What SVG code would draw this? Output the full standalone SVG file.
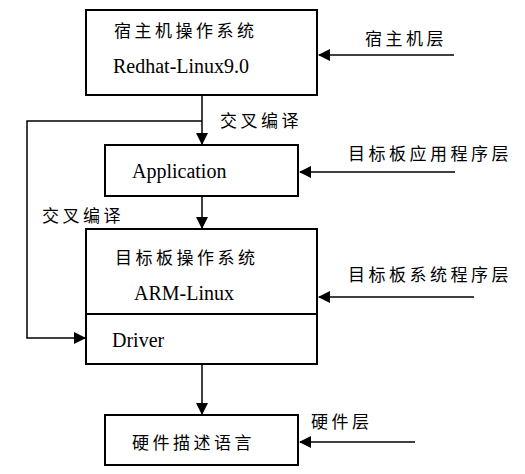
<svg xmlns="http://www.w3.org/2000/svg" width="525" height="474" viewBox="0 0 525 474">
<style>
.box{fill:#fff;stroke:#000;stroke-width:2}
.ln{fill:none;stroke:#000;stroke-width:1.5}
.en{font-family:"Liberation Serif",serif;font-size:20px;fill:#000}
.zh{font-family:"Noto Sans CJK SC",sans-serif;font-size:17px;letter-spacing:3.5px;fill:#000}
</style>
<defs>
<marker id="ah" markerWidth="12" markerHeight="12" refX="11" refY="6" orient="auto" markerUnits="userSpaceOnUse">
<path d="M0,0 L12,6 L0,12 Z" fill="#000"/>
</marker>
</defs>
<rect width="525" height="474" fill="#fff"/>
<g id="connectors">
<line class="ln" x1="202" y1="95" x2="202" y2="144" marker-end="url(#ah)"/>
<polyline class="ln" points="202,121 27,121 27,338 85,338" marker-end="url(#ah)"/>
<line class="ln" x1="202" y1="196" x2="202" y2="228" marker-end="url(#ah)"/>
<line class="ln" x1="202" y1="364" x2="202" y2="414" marker-end="url(#ah)"/>
<line class="ln" x1="454" y1="55" x2="319" y2="55" marker-end="url(#ah)"/>
<line class="ln" x1="455" y1="172" x2="300" y2="172" marker-end="url(#ah)"/>
<line class="ln" x1="474" y1="297" x2="319" y2="297" marker-end="url(#ah)"/>
<line class="ln" x1="415" y1="442" x2="300" y2="442" marker-end="url(#ah)"/>
<text class="zh" x="220" y="127">交叉编译</text>
<text class="zh" x="42" y="222">交叉编译</text>
</g>
<g id="host">
<rect class="box" x="86" y="10" width="231" height="85"/>
<text class="zh" x="114" y="37">宿主机操作系统</text>
<text class="en" x="113" y="73">Redhat-Linux9.0</text>
</g>
<g id="host-layer"><text class="zh" x="365" y="45">宿主机层</text></g>
<g id="application">
<rect class="box" x="105" y="145" width="193" height="51"/>
<text class="en" x="132" y="178">Application</text>
</g>
<g id="app-layer"><text class="zh" x="348" y="160">目标板应用程序层</text></g>
<g id="target-os">
<rect class="box" x="86" y="229" width="231" height="135"/>
<line x1="86" y1="314" x2="317" y2="314" stroke="#000" stroke-width="2"/>
<text class="zh" x="115" y="264">目标板操作系统</text>
<text class="en" x="134" y="300">ARM-Linux</text>
<text class="en" x="112" y="347">Driver</text>
</g>
<g id="sys-layer"><text class="zh" x="348" y="281">目标板系统程序层</text></g>
<g id="hardware">
<rect class="box" x="105" y="415" width="193" height="50"/>
<text class="zh" x="132" y="449">硬件描述语言</text>
</g>
<g id="hw-layer"><text class="zh" x="311" y="428">硬件层</text></g>
</svg>
